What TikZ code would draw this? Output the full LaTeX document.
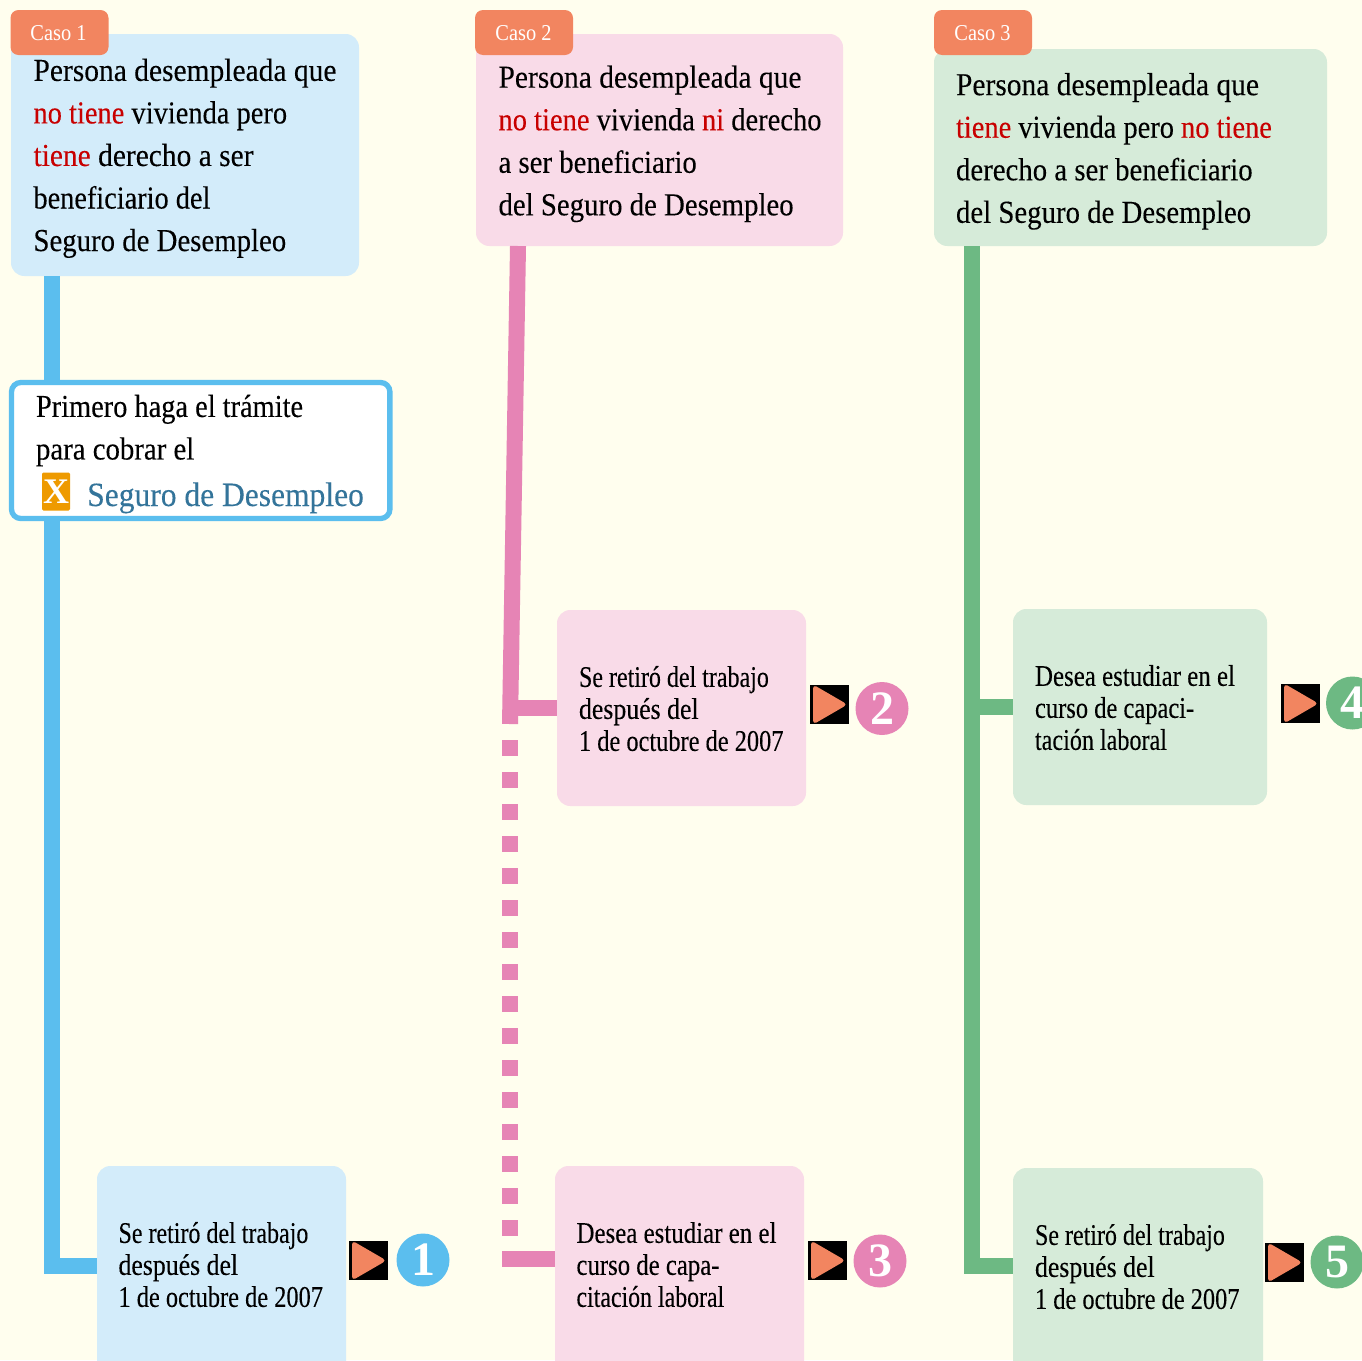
\documentclass[tikz,border=0pt]{standalone}
\usepackage{fontspec}
\usepackage{graphicx}
\setmainfont{Liberation Serif}
\newfontfamily\bigf[FakeStretch=0.9,FakeBold=0.15]{Liberation Serif}
\newfontfamily\smallf[FakeStretch=0.86,FakeBold=0.15]{Liberation Serif}
\newfontfamily\tagf[FakeStretch=0.9]{Liberation Serif}
\newfontfamily\digf[FakeStretch=1.0]{Liberation Serif}
\definecolor{bgc}{HTML}{FFFEEE}
\definecolor{bluebox}{HTML}{D3ECFA}
\definecolor{pinkbox}{HTML}{F9DBE8}
\definecolor{greenbox}{HTML}{D6EBD9}
\definecolor{blueline}{HTML}{5BBEEE}
\definecolor{pinkline}{HTML}{E684B5}
\definecolor{greenline}{HTML}{6DB983}
\definecolor{tagc}{HTML}{F28560}
\definecolor{redt}{HTML}{C80000}
\definecolor{linkt}{HTML}{33749A}
\definecolor{xc}{HTML}{EE9A00}
\newcommand{\rd}[1]{\textcolor{redt}{#1}}
\newcommand{\sq}[2]{\scalebox{#1}[1]{#2}}
\newcommand{\bx}[6]{\node[#1,anchor=north west,inner sep=0pt,outer sep=0pt,minimum width={(#4-#2)*0.75pt},minimum height={(#5-#3)*0.75pt}] (#6) at (#2,#3) {};}
\newcommand{\playicon}[3]{%
  \node[anchor=north west,fill=black,inner sep=0pt,outer sep=0pt,minimum size=29.25pt] (#1) at (#2,#3) {};
  \fill[tagc,rounded corners=3pt] ([shift={(3,-0.5)}]#1.north west) -- ([shift={(37.5,19.5)}]#1.north west) -- ([shift={(3,39.5)}]#1.north west) -- cycle;}
\tikzset{
  x=0.75pt,y=-0.75pt,
  bigtxt/.style={anchor=north west,inner sep=0pt,outer sep=0pt,align=left,font=\bigf\fontsize{24pt}{31.9pt}\selectfont},
  smalltxt/.style={anchor=north west,inner sep=0pt,outer sep=0pt,align=left,font=\smallf\fontsize{22.5pt}{24pt}\selectfont},
  tagbox/.style={fill=tagc,rounded corners=6pt},
  tagtxt/.style={inner sep=0pt,text=white,font=\tagf\fontsize{17pt}{18pt}\selectfont},
  bb/.style={fill=bluebox,rounded corners=10pt},
  pb/.style={fill=pinkbox,rounded corners=10pt},
  gb/.style={fill=greenbox,rounded corners=10pt},
  wire/.style={line width=12pt,line cap=butt,line join=miter},
  num/.style={circle,inner sep=0pt,minimum size=39.75pt,text=white,font=\digf\bfseries\fontsize{36pt}{36pt}\selectfont},
}
\begin{document}
\begin{tikzpicture}
\useasboundingbox (0,0) rectangle (1362,1360);
\clip (0,0) rectangle (1362,1360);
\fill[bgc] (0,0) rectangle (1362,1360);
% boxes
\bx{bb}{11}{34}{359}{276}{caseA}
\bx{pb}{476}{34}{843}{246}{caseB}
\bx{gb}{934}{49}{1327}{246}{caseC}
\bx{bb}{97}{1166}{346}{1400}{retA}
\bx{pb}{557}{610}{806}{806}{retB}
\bx{pb}{555}{1166}{804}{1400}{estB}
\bx{gb}{1013}{609}{1267}{805}{estC}
\bx{gb}{1013}{1168}{1263}{1400}{retC}
% connectors
\coordinate (ca) at (52,276);
\coordinate (cb) at (518,246);
\coordinate (cc) at (972,246);
\coordinate (ka) at (52,1266);
\coordinate (kb) at (510,724);
\coordinate (kbm) at (510,708);
\coordinate (kd1) at (510,740);
\coordinate (kd2) at (510,1236);
\coordinate (ke) at (502,1259);
\coordinate (kc1) at (972,707);
\coordinate (kc2) at (972,1266);
\draw[wire,blueline] (ca) -- (ka) -- (ka -| retA.west);
\draw[wire,pinkline] (cb) -- (kb);
\draw[wire,pinkline] (kbm) -- (kbm -| retB.west);
\draw[wire,pinkline,dash pattern=on 12pt off 12pt] (kd1) -- (kd2);
\draw[wire,pinkline] (ke) -- (ke -| estB.west);
\draw[wire,greenline] (cc) -- (kc2) -- (kc2 -| retC.west);
\draw[wire,greenline] (kc1) -- (kc1 -| estC.west);
% notice box
\node[draw=blueline,fill=white,line width=4pt,rounded corners=7pt,anchor=north west,inner sep=0pt,outer sep=0pt,minimum width=283.8pt,minimum height=102pt] (notice) at (11.5,382.5) {};
% tags
\bx{tagbox}{10.5}{10}{108.5}{55}{tagA}
\bx{tagbox}{475}{10}{573}{55}{tagB}
\bx{tagbox}{934}{10}{1032}{55}{tagC}
\node[tagtxt] (tagAt) at (58.5,33) {Caso 1};
\node[tagtxt] (tagBt) at (523.5,33) {Caso 2};
\node[tagtxt] (tagCt) at (982.5,33) {Caso 3};
% texts
\node[bigtxt] (caseAt) at (33.5,58.7) {\sq{1.024}{Persona desempleada que}\\\sq{.988}{\rd{no tiene} vivienda pero}\\\sq{1.023}{\rd{tiene} derecho a ser}\\\sq{.983}{beneficiario del}\\Seguro de Desempleo};
\node[bigtxt] (caseBt) at (498.5,65.5) {\sq{1.024}{Persona desempleada que}\\\sq{.99}{\rd{no tiene} vivienda \rd{ni} derecho}\\a ser beneficiario\\del Seguro de Desempleo};
\node[bigtxt] (caseCt) at (956,73) {\sq{1.024}{Persona desempleada que}\\\sq{.9875}{\rd{tiene} vivienda pero \rd{no tiene}}\\derecho a ser beneficiario\\del Seguro de Desempleo};
\node[bigtxt] (noticeA) at (36,394.7) {\sq{.985}{Primero haga el trámite}\\para cobrar el};
\node[anchor=north west,fill=xc,rounded corners=1pt,inner sep=0pt,outer sep=0pt,minimum width=21pt,minimum height=28.5pt,text=white,font=\setmainfont{Liberation Serif}\bfseries\fontsize{27pt}{27pt}\selectfont] (xicon) at (42,472.5) {X};
\node[anchor=base west,inner sep=0pt,text=linkt,font=\bigf\fontsize{25.5pt}{30pt}\selectfont] (linkt) at (87,506) {\sq{1.03}{Seguro de Desempleo}};
\node[smalltxt] (retAt) at (118.5,1222) {\sq{.93}{Se retiró del trabajo}\\después del\\\sq{.945}{1 de octubre de 2007}};
\node[smalltxt] (retBt) at (579,666) {\sq{.93}{Se retiró del trabajo}\\después del\\\sq{.945}{1 de octubre de 2007}};
\node[smalltxt] (estBt) at (576.5,1222) {\sq{.966}{Desea estudiar en el}\\\sq{.96}{curso de capa-}\\\sq{.925}{citación laboral}};
\node[smalltxt] (estCt) at (1035,665) {\sq{.966}{Desea estudiar en el}\\\sq{.95}{curso de capaci-}\\\sq{.935}{tación laboral}};
\node[smalltxt] (retCt) at (1035,1224) {\sq{.93}{Se retiró del trabajo}\\después del\\\sq{.945}{1 de octubre de 2007}};
% play icons
\playicon{playA}{349}{1241}
\playicon{playB}{810}{685}
\playicon{playC}{808}{1241}
\playicon{playD}{1281}{684}
\playicon{playE}{1265}{1243}
% numbers
\node[num,fill=blueline] (n1) at (423,1260) {1};
\node[num,fill=pinkline] (n2) at (882,708.5) {2};
\node[num,fill=pinkline] (n3) at (880,1261) {3};
\node[num,fill=greenline] (n4) at (1352.5,703) {4};
\node[num,fill=greenline] (n5) at (1337,1262) {5};
\end{tikzpicture}
\end{document}
